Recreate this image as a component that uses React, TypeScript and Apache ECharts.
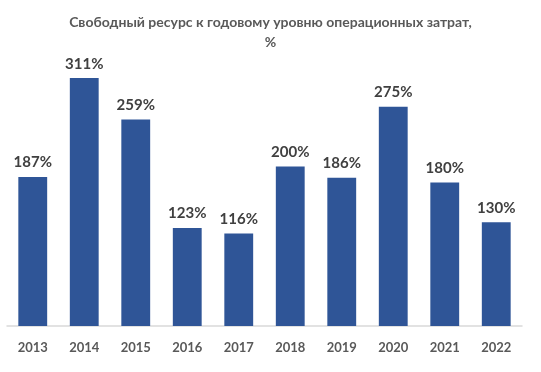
import React, { useEffect, useRef } from "react";
import * as echarts from "echarts";

const years = ["2013", "2014", "2015", "2016", "2017", "2018", "2019", "2020", "2021", "2022"];
const values = [187, 311, 259, 123, 116, 200, 186, 275, 180, 130];
const titleText = "Свободный ресурс к годовому уровню операционных затрат,\n%";

export default function App() {
  const ref = useRef<HTMLDivElement>(null);
  useEffect(() => {
    if (!ref.current) return;
    const chart = echarts.init(ref.current, undefined, { renderer: "svg" });
    chart.setOption({
      animation: false,
      title: {
        text: titleText,
        left: "center",
        top: 6,
        textStyle: {
          fontFamily: "Lato",
          fontWeight: "bold",
          fontSize: 14,
          color: "#595959",
          lineHeight: 20,
        },
      },
      grid: { left: 7, right: 19, top: 47, bottom: 46 },
      xAxis: {
        type: "category",
        data: years,
        axisLine: { lineStyle: { color: "#d9d9d9", width: 1.5 } },
        axisTick: { show: false },
        axisLabel: {
          margin: 14,
          fontFamily: "Lato",
          fontWeight: "bold",
          fontSize: 13,
          color: "#595959",
        },
      },
      yAxis: {
        type: "value",
        min: 0,
        max: 350,
        show: false,
        splitLine: { show: false },
      },
      series: [
        {
          type: "bar",
          data: values,
          barCategoryGap: "44%",
          itemStyle: { color: "#2f5597" },
          label: {
            show: true,
            position: "top",
            distance: 8,
            formatter: "{c}%",
            fontFamily: "Lato",
            fontWeight: "bold",
            fontSize: 15,
            color: "#404040",
          },
        },
      ],
    });
    return () => chart.dispose();
  }, []);
  return (
    <div
      ref={ref}
      style={{ position: "fixed", left: 0, top: 0, width: 541, height: 372 }}
    />
  );
}
